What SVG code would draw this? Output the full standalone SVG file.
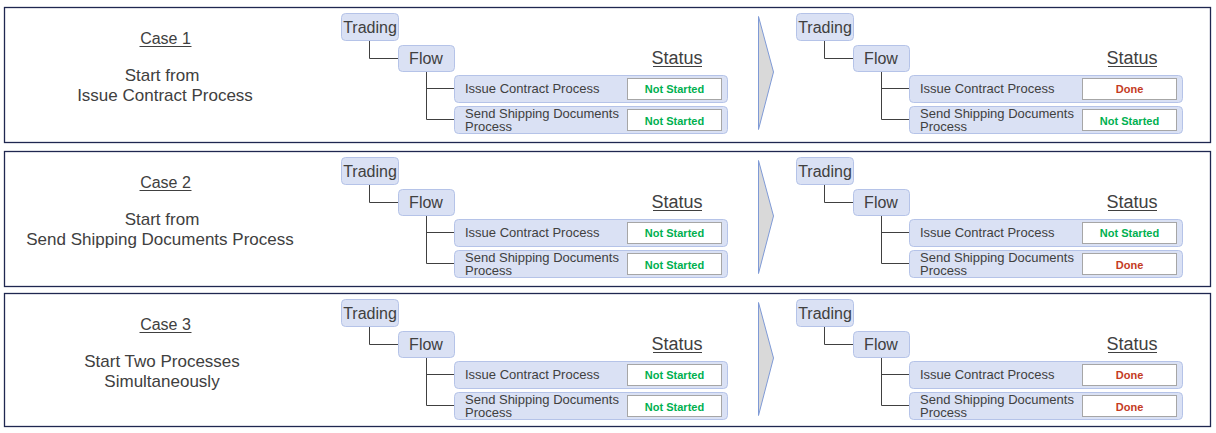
<svg xmlns="http://www.w3.org/2000/svg" width="1216" height="433" viewBox="0 0 1216 433">
<style>
.panel{fill:#fff;stroke:#1f2750;stroke-width:1.3}
.node{fill:#dae1f4;stroke:#b5c3e8;stroke-width:1}
.t{font-family:"Liberation Sans",Arial,sans-serif;fill:#404040}
.c{text-anchor:middle}
.d{font-size:17px}
.st{fill:#fff;stroke:#a6a6a6;stroke-width:1}
.ns{font-family:"Liberation Sans",Arial,sans-serif;font-size:11px;font-weight:bold;fill:#00b050;text-anchor:middle}
.dn{font-family:"Liberation Sans",Arial,sans-serif;font-size:11px;font-weight:bold;fill:#c43b1f;text-anchor:middle}
.conn{fill:none;stroke:#404040;stroke-width:1}
.ul{stroke:#404040;stroke-width:1}
.arrow{fill:#d9d9d9;stroke:#7f9ad6;stroke-width:1}
</style>
<rect class="panel" x="4.5" y="7.5" width="1206" height="135"/>
<rect class="panel" x="4.5" y="151.5" width="1206" height="135"/>
<rect class="panel" x="4.5" y="293.5" width="1206" height="133"/>

<!-- Panel 1 -->
<g id="case1" transform="translate(0,0)">
  <g id="case1-label">
    <text class="t c" x="165.5" y="44" font-size="16">Case 1</text>
    <line class="ul" x1="139.5" y1="46.5" x2="191.5" y2="46.5"/>
    <text class="t c d" x="162" y="81">Start from</text>
    <text class="t c d" x="165" y="101">Issue Contract Process</text>
  </g>
  <g id="c1-connectors">
    <path class="conn" d="M369.5,40.5V58.5H398.5M426.5,71.5V119.5H454.5M426.5,88.5H454.5"/>
    <path class="conn" d="M824.5,40.5V58.5H853.5M881.5,71.5V119.5H909.5M881.5,88.5H909.5"/>
  </g>
  <g id="c1-trading-before"><rect class="node" x="341.5" y="13.5" width="57" height="27" rx="4"/><text class="t c" x="370" y="33" font-size="16">Trading</text></g>
  <g id="c1-flow-before"><rect class="node" x="398.5" y="45.5" width="56" height="26" rx="4"/><text class="t c" x="426" y="64" font-size="16">Flow</text></g>
  <g id="c1-status-before"><text class="t c" x="677" y="64" font-size="18">Status</text><line class="ul" x1="653" y1="66.5" x2="702" y2="66.5"/></g>
  <g id="c1-issue-before"><rect class="node" x="454.5" y="75.5" width="273" height="27" rx="4"/><text class="t" x="465" y="93" font-size="13">Issue Contract Process</text><rect class="st" x="627.5" y="78.5" width="94" height="21"/><text class="ns" x="674.5" y="93">Not Started</text></g>
  <g id="c1-send-before"><rect class="node" x="454.5" y="106.5" width="273" height="27" rx="4"/><text class="t" x="465" y="117.5" font-size="13">Send Shipping Documents</text><text class="t" x="465" y="130.5" font-size="13">Process</text><rect class="st" x="627.5" y="109.5" width="94" height="21"/><text class="ns" x="674.5" y="124.5">Not Started</text></g>
  <g id="c1-arrow"><polygon class="arrow" points="758.5,16.5 773.5,72 758.5,129.5"/></g>
  <g id="c1-trading-after"><rect class="node" x="796.5" y="13.5" width="57" height="27" rx="4"/><text class="t c" x="825" y="33" font-size="16">Trading</text></g>
  <g id="c1-flow-after"><rect class="node" x="853.5" y="45.5" width="56" height="26" rx="4"/><text class="t c" x="881" y="64" font-size="16">Flow</text></g>
  <g id="c1-status-after"><text class="t c" x="1132" y="64" font-size="18">Status</text><line class="ul" x1="1108" y1="66.5" x2="1157" y2="66.5"/></g>
  <g id="c1-issue-after"><rect class="node" x="909.5" y="75.5" width="273" height="27" rx="4"/><text class="t" x="920" y="93" font-size="13">Issue Contract Process</text><rect class="st" x="1082.5" y="78.5" width="94" height="21"/><text class="dn" x="1129.5" y="93">Done</text></g>
  <g id="c1-send-after"><rect class="node" x="909.5" y="106.5" width="273" height="27" rx="4"/><text class="t" x="920" y="117.5" font-size="13">Send Shipping Documents</text><text class="t" x="920" y="130.5" font-size="13">Process</text><rect class="st" x="1082.5" y="109.5" width="94" height="21"/><text class="ns" x="1129.5" y="124.5">Not Started</text></g>
</g>

<!-- Panel 2 -->
<g id="case2" transform="translate(0,144)">
  <g id="case2-label">
    <text class="t c" x="165.5" y="44" font-size="16">Case 2</text>
    <line class="ul" x1="139.5" y1="46.5" x2="191.5" y2="46.5"/>
    <text class="t c d" x="162" y="81">Start from</text>
    <text class="t c d" x="160" y="101">Send Shipping Documents Process</text>
  </g>
  <g id="c2-connectors">
    <path class="conn" d="M369.5,40.5V58.5H398.5M426.5,71.5V119.5H454.5M426.5,88.5H454.5"/>
    <path class="conn" d="M824.5,40.5V58.5H853.5M881.5,71.5V119.5H909.5M881.5,88.5H909.5"/>
  </g>
  <g id="c2-trading-before"><rect class="node" x="341.5" y="13.5" width="57" height="27" rx="4"/><text class="t c" x="370" y="33" font-size="16">Trading</text></g>
  <g id="c2-flow-before"><rect class="node" x="398.5" y="45.5" width="56" height="26" rx="4"/><text class="t c" x="426" y="64" font-size="16">Flow</text></g>
  <g id="c2-status-before"><text class="t c" x="677" y="64" font-size="18">Status</text><line class="ul" x1="653" y1="66.5" x2="702" y2="66.5"/></g>
  <g id="c2-issue-before"><rect class="node" x="454.5" y="75.5" width="273" height="27" rx="4"/><text class="t" x="465" y="93" font-size="13">Issue Contract Process</text><rect class="st" x="627.5" y="78.5" width="94" height="21"/><text class="ns" x="674.5" y="93">Not Started</text></g>
  <g id="c2-send-before"><rect class="node" x="454.5" y="106.5" width="273" height="27" rx="4"/><text class="t" x="465" y="117.5" font-size="13">Send Shipping Documents</text><text class="t" x="465" y="130.5" font-size="13">Process</text><rect class="st" x="627.5" y="109.5" width="94" height="21"/><text class="ns" x="674.5" y="124.5">Not Started</text></g>
  <g id="c2-arrow"><polygon class="arrow" points="758.5,16.5 773.5,72 758.5,129.5"/></g>
  <g id="c2-trading-after"><rect class="node" x="796.5" y="13.5" width="57" height="27" rx="4"/><text class="t c" x="825" y="33" font-size="16">Trading</text></g>
  <g id="c2-flow-after"><rect class="node" x="853.5" y="45.5" width="56" height="26" rx="4"/><text class="t c" x="881" y="64" font-size="16">Flow</text></g>
  <g id="c2-status-after"><text class="t c" x="1132" y="64" font-size="18">Status</text><line class="ul" x1="1108" y1="66.5" x2="1157" y2="66.5"/></g>
  <g id="c2-issue-after"><rect class="node" x="909.5" y="75.5" width="273" height="27" rx="4"/><text class="t" x="920" y="93" font-size="13">Issue Contract Process</text><rect class="st" x="1082.5" y="78.5" width="94" height="21"/><text class="ns" x="1129.5" y="93">Not Started</text></g>
  <g id="c2-send-after"><rect class="node" x="909.5" y="106.5" width="273" height="27" rx="4"/><text class="t" x="920" y="117.5" font-size="13">Send Shipping Documents</text><text class="t" x="920" y="130.5" font-size="13">Process</text><rect class="st" x="1082.5" y="109.5" width="94" height="21"/><text class="dn" x="1129.5" y="124.5">Done</text></g>
</g>

<!-- Panel 3 -->
<g id="case3" transform="translate(0,286)">
  <g id="case3-label">
    <text class="t c" x="165.5" y="44" font-size="16">Case 3</text>
    <line class="ul" x1="139.5" y1="46.5" x2="191.5" y2="46.5"/>
    <text class="t c d" x="162" y="81">Start Two Processes</text>
    <text class="t c d" x="162" y="101">Simultaneously</text>
  </g>
  <g id="c3-connectors">
    <path class="conn" d="M369.5,40.5V58.5H398.5M426.5,71.5V119.5H454.5M426.5,88.5H454.5"/>
    <path class="conn" d="M824.5,40.5V58.5H853.5M881.5,71.5V119.5H909.5M881.5,88.5H909.5"/>
  </g>
  <g id="c3-trading-before"><rect class="node" x="341.5" y="13.5" width="57" height="27" rx="4"/><text class="t c" x="370" y="33" font-size="16">Trading</text></g>
  <g id="c3-flow-before"><rect class="node" x="398.5" y="45.5" width="56" height="26" rx="4"/><text class="t c" x="426" y="64" font-size="16">Flow</text></g>
  <g id="c3-status-before"><text class="t c" x="677" y="64" font-size="18">Status</text><line class="ul" x1="653" y1="66.5" x2="702" y2="66.5"/></g>
  <g id="c3-issue-before"><rect class="node" x="454.5" y="75.5" width="273" height="27" rx="4"/><text class="t" x="465" y="93" font-size="13">Issue Contract Process</text><rect class="st" x="627.5" y="78.5" width="94" height="21"/><text class="ns" x="674.5" y="93">Not Started</text></g>
  <g id="c3-send-before"><rect class="node" x="454.5" y="106.5" width="273" height="27" rx="4"/><text class="t" x="465" y="117.5" font-size="13">Send Shipping Documents</text><text class="t" x="465" y="130.5" font-size="13">Process</text><rect class="st" x="627.5" y="109.5" width="94" height="21"/><text class="ns" x="674.5" y="124.5">Not Started</text></g>
  <g id="c3-arrow"><polygon class="arrow" points="758.5,16.5 773.5,72 758.5,129.5"/></g>
  <g id="c3-trading-after"><rect class="node" x="796.5" y="13.5" width="57" height="27" rx="4"/><text class="t c" x="825" y="33" font-size="16">Trading</text></g>
  <g id="c3-flow-after"><rect class="node" x="853.5" y="45.5" width="56" height="26" rx="4"/><text class="t c" x="881" y="64" font-size="16">Flow</text></g>
  <g id="c3-status-after"><text class="t c" x="1132" y="64" font-size="18">Status</text><line class="ul" x1="1108" y1="66.5" x2="1157" y2="66.5"/></g>
  <g id="c3-issue-after"><rect class="node" x="909.5" y="75.5" width="273" height="27" rx="4"/><text class="t" x="920" y="93" font-size="13">Issue Contract Process</text><rect class="st" x="1082.5" y="78.5" width="94" height="21"/><text class="dn" x="1129.5" y="93">Done</text></g>
  <g id="c3-send-after"><rect class="node" x="909.5" y="106.5" width="273" height="27" rx="4"/><text class="t" x="920" y="117.5" font-size="13">Send Shipping Documents</text><text class="t" x="920" y="130.5" font-size="13">Process</text><rect class="st" x="1082.5" y="109.5" width="94" height="21"/><text class="dn" x="1129.5" y="124.5">Done</text></g>
</g>
</svg>
